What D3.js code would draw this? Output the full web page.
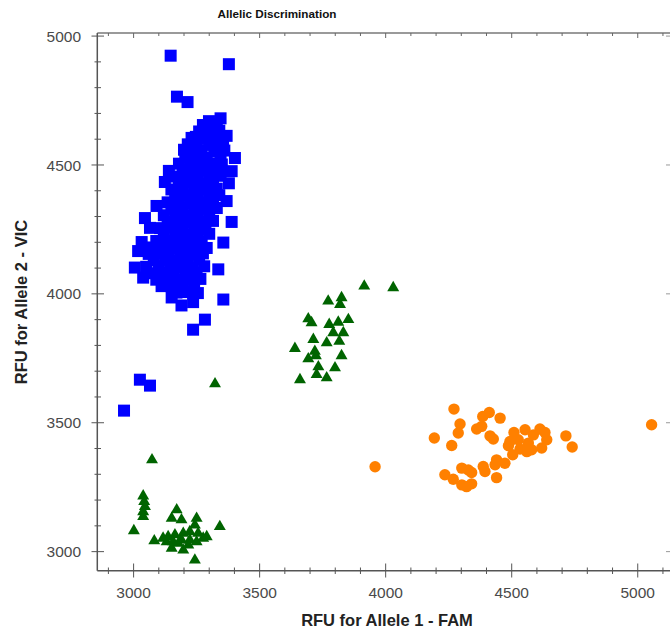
<!DOCTYPE html>
<html>
<head>
<meta charset="utf-8">
<script src="https://cdnjs.cloudflare.com/ajax/libs/d3/7.8.5/d3.min.js"></script>
<style>
    body { margin: 0; background: #fff; }
    svg text { font-family: Arial, "Liberation Sans", sans-serif; }
</style>
</head>
<body>
<svg id="chart" width="670" height="632"></svg>
<script>

// Allele 1 (FAM) / Allele 2 (VIC) RFU pairs
var allele2Homo = [  // blue squares
    [3147,4924],[3378,4891],[3172,4765],[3214,4744],[3299,4670],[3345,4681],[3247,4609],[3369,4613],
    [3200,4559],[3402,4527],[3140,4477],[3389,4476],[3124,4434],[3378,4429],[3091,4341],[3369,4360],
    [3045,4294],[3065,4256],[3389,4279],[3356,4199],[3032,4201],[3018,4166],[3005,4102],[3038,4063],
    [3336,4095],[3111,4030],[3151,3986],[3190,3955],[3236,3968],[3356,3978],[3283,3900],[3236,3861],
    [3025,3667],[3065,3644],[2962,3547],
    [3275,4655],[3310,4658],[3330,4650],
    [3260,4630],[3295,4628],[3340,4633],
    [3230,4605],[3280,4602],[3315,4607],[3355,4600],
    [3215,4580],[3250,4583],[3300,4578],[3335,4580],
    [3235,4555],[3270,4557],[3320,4552],[3360,4556],
    [3205,4530],[3245,4532],[3290,4528],[3345,4530],
    [3180,4505],[3225,4503],[3265,4507],[3310,4505],[3350,4502],
    [3195,4480],[3240,4482],[3280,4478],[3325,4480],
    [3165,4455],[3210,4457],[3255,4453],[3300,4455],[3345,4458],
    [3180,4430],[3225,4432],[3270,4428],[3315,4430],
    [3150,4405],[3195,4407],[3240,4403],[3285,4405],[3330,4408],
    [3165,4380],[3210,4382],[3255,4378],[3300,4380],[3340,4383],
    [3135,4355],[3180,4357],[3225,4353],[3270,4355],[3315,4352],
    [3150,4330],[3195,4332],[3240,4328],[3285,4330],[3330,4333],
    [3120,4305],[3165,4307],[3210,4303],[3255,4305],[3300,4302],
    [3135,4280],[3180,4282],[3225,4278],[3270,4280],[3315,4283],
    [3105,4255],[3150,4257],[3195,4253],[3240,4255],[3285,4252],
    [3120,4230],[3165,4232],[3210,4228],[3255,4230],[3300,4233],
    [3090,4205],[3135,4207],[3180,4203],[3225,4205],[3270,4202],
    [3075,4180],[3110,4182],[3155,4178],[3200,4180],[3245,4183],[3290,4178],
    [3060,4155],[3095,4157],[3140,4153],[3185,4155],[3230,4152],[3275,4157],
    [3080,4130],[3125,4132],[3170,4128],[3215,4130],[3260,4133],
    [3050,4105],[3100,4107],[3145,4103],[3190,4105],[3235,4102],[3280,4107],
    [3070,4080],[3115,4082],[3160,4078],[3205,4080],[3250,4083],
    [3090,4055],[3135,4057],[3180,4053],[3225,4055],[3265,4058],
    [3150,4030],[3195,4032],[3240,4028],
    [3170,4005],[3215,4007],[3255,4003]
];

var heterozygous = [  // green triangles
    [3915,4030],[4030,4024],[3772,3972],[3825,3985],[3819,3959],[3693,3903],[3706,3888],[3776,3881],
    [3812,3890],[3852,3900],[3792,3849],[3832,3849],[3713,3823],[3766,3810],[3816,3816],[3640,3788],
    [3719,3777],[3693,3748],[3723,3760],[3825,3760],[3733,3717],[3799,3713],[3726,3687],[3766,3674],
    [3660,3667],[3323,3651],
    [3073,3356],[3038,3216],[3042,3194],[3045,3175],[3038,3155],[3038,3136],[3001,3081],[3082,3042],
    [3171,3162],[3151,3129],[3190,3123],[3250,3129],[3243,3103],[3342,3097],[3137,3058],[3164,3065],
    [3197,3071],[3223,3077],[3256,3071],[3276,3052],[3131,3038],[3157,3038],[3190,3045],[3223,3045],
    [3250,3038],[3151,3013],[3197,3006],[3243,2967],[3177,3032],[3217,3026],[3117,3052],[3290,3058]
];

var allele1Homo = [  // orange circles
    [4271,3553],[4385,3524],[4411,3540],[4454,3518],[4295,3495],[4288,3460],[4361,3476],[4381,3486],
    [4414,3449],[4427,3437],[4193,3441],[4262,3412],[4509,3462],[4553,3473],[4612,3476],[4632,3462],
    [4639,3434],[4586,3453],[4493,3427],[4526,3434],[4566,3421],[4487,3411],[4533,3398],[4560,3388],
    [4579,3395],[4619,3402],[4504,3376],[4715,3449],[4740,3406],[5055,3492],[4440,3356],[4434,3337],
    [4473,3343],[4387,3330],[4394,3311],[4302,3324],[4328,3317],[4341,3307],[4235,3298],[4268,3281],
    [4302,3259],[4321,3252],[4341,3263],[4440,3287],[3958,3329]
];

var xTicks = [3000, 3500, 4000, 4500, 5000];
var yTicks = [3000, 3500, 4000, 4500, 5000];

var svg = d3.select("#chart");

var x = d3.scaleLinear().domain([2856, 5126]).range([97.3, 669.5]);
var y = d3.scaleLinear().domain([2926, 5012]).range([570.7, 33]);

var minorX = d3.range(2900, 5101, 100),
    minorY = d3.range(3000, 5001, 100);

// top frame + small ticks on the right edge
var frame = svg.append("g");
frame.append("line").attr("x1", x.range()[0]).attr("x2", 670).attr("y1", 33).attr("y2", 33)
    .attr("stroke", "#9a9a9a").attr("stroke-width", 2);
frame.selectAll(".tt").data(minorX).enter().append("line")
    .attr("x1", function(d) { return x(d); }).attr("x2", function(d) { return x(d); })
    .attr("y1", 33).attr("y2", function(d) { return d % 500 === 0 ? 38 : 36; })
    .attr("stroke", "#666").attr("stroke-width", 1);
frame.selectAll(".rt").data(yTicks).enter().append("line")
    .attr("x1", 666).attr("x2", 670)
    .attr("y1", function(d) { return y(d); }).attr("y2", function(d) { return y(d); })
    .attr("stroke", "#999").attr("stroke-width", 1);

// bottom axis
var xAxis = svg.append("g");
xAxis.append("line").attr("x1", x.range()[0]).attr("x2", 670).attr("y1", 570.7).attr("y2", 570.7)
    .attr("stroke", "#555").attr("stroke-width", 1.5);
xAxis.selectAll(".mx").data(minorX).enter().append("line")
    .attr("x1", function(d) { return x(d); }).attr("x2", function(d) { return x(d); })
    .attr("y1", function(d) { return d % 500 === 0 ? 563.5 : 567.5; })
    .attr("y2", function(d) { return d % 500 === 0 ? 577.5 : 574; })
    .attr("stroke", "#555").attr("stroke-width", 1);
xAxis.selectAll(".xl").data(xTicks).enter().append("text")
    .attr("x", function(d) { return x(d); }).attr("y", 598)
    .attr("text-anchor", "middle").attr("font-size", "15.5px").attr("fill", "#4a4a4a")
    .text(function(d) { return d; });

// left axis
var yAxis = svg.append("g");
yAxis.append("line").attr("x1", 97.3).attr("x2", 97.3).attr("y1", 33).attr("y2", 570.7)
    .attr("stroke", "#555").attr("stroke-width", 1.5);
yAxis.selectAll(".my").data(minorY).enter().append("line")
    .attr("y1", function(d) { return y(d); }).attr("y2", function(d) { return y(d); })
    .attr("x1", function(d) { return d % 500 === 0 ? 91.5 : 94.5; })
    .attr("x2", function(d) { return d % 500 === 0 ? 104 : 101; })
    .attr("stroke", "#555").attr("stroke-width", 1);
yAxis.selectAll(".yl").data(yTicks).enter().append("text")
    .attr("x", 81).attr("y", function(d) { return y(d); }).attr("dy", "0.36em")
    .attr("text-anchor", "end").attr("font-size", "15.5px").attr("fill", "#4a4a4a")
    .text(function(d) { return d; });

// titles
svg.append("text").attr("x", 277).attr("y", 18).attr("text-anchor", "middle")
    .attr("font-size", "11.7px").attr("font-weight", "bold").attr("fill", "#111")
    .text("Allelic Discrimination");
svg.append("text").attr("x", 387).attr("y", 626).attr("text-anchor", "middle")
    .attr("font-size", "16.5px").attr("font-weight", "bold").attr("fill", "#222")
    .text("RFU for Allele 1 - FAM");
svg.append("text").attr("transform", "translate(27,302) rotate(-90)").attr("text-anchor", "middle")
    .attr("font-size", "16.5px").attr("font-weight", "bold").attr("fill", "#222")
    .text("RFU for Allele 2 - VIC");

// points
var pts = svg.append("g");
pts.selectAll(".sq").data(allele2Homo).enter().append("rect")
    .attr("x", function(d) { return x(d[0]) - 6; })
    .attr("y", function(d) { return y(d[1]) - 6; })
    .attr("width", 12).attr("height", 12).attr("fill", "#0000ff");

var tri = d3.symbol().type(d3.symbolTriangle).size(62);
pts.selectAll(".tr").data(heterozygous).enter().append("path")
    .attr("d", tri)
    .attr("transform", function(d) { return "translate(" + x(d[0]) + "," + y(d[1]) + ")"; })
    .attr("fill", "#006400");

pts.selectAll(".ci").data(allele1Homo).enter().append("circle")
    .attr("cx", function(d) { return x(d[0]); })
    .attr("cy", function(d) { return y(d[1]); })
    .attr("r", 5.7).attr("fill", "#ff8000");

</script>
</body>
</html>
